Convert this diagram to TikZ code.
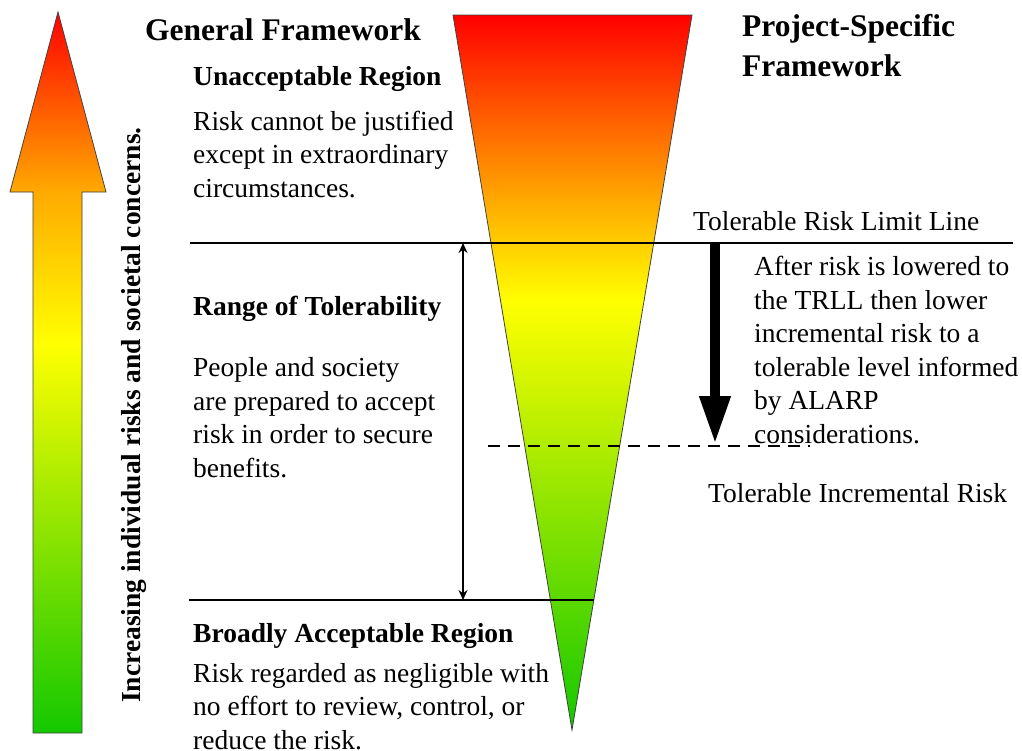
\documentclass[tikz,border=0pt]{standalone}
\usepackage{fontspec}
\setmainfont{Liberation Serif}
\usetikzlibrary{arrows.meta}
\definecolor{riskred}{RGB}{255,0,0}
\definecolor{riskorange}{RGB}{255,170,0}
\definecolor{riskyellow}{RGB}{255,255,0}
\definecolor{riskgreen}{RGB}{20,200,0}
\pgfdeclareverticalshading{triangleshade}{100bp}{color(0bp)=(riskgreen); color(25bp)=(riskgreen); color(55bp)=(riskyellow); color(62bp)=(riskorange); color(75bp)=(riskred); color(100bp)=(riskred)}
\pgfdeclareverticalshading{arrowshade}{100bp}{color(0bp)=(riskgreen); color(25bp)=(riskgreen); color(52bp)=(riskyellow); color(62.5bp)=(riskorange); color(75bp)=(riskred); color(100bp)=(riskred)}
\tikzset{
  body/.style={inner sep=0pt, anchor=base west, align=left, font=\fontsize{27.5}{33.5}\selectfont},
  heading/.style={body, font=\fontsize{27.5}{33.5}\selectfont\bfseries},
  title/.style={body, font=\fontsize{31.5}{40}\selectfont\bfseries},
  regionline/.style={line width=1.5pt},
}
\begin{document}
\begin{tikzpicture}[x=1pt,y=-1pt]
\useasboundingbox (0,0) rectangle (1022,750);

\shadedraw[shading=arrowshade, draw=black!75, line width=0.8pt]
  (33,733) -- (33,192) -- (10,192) -- (58,12) -- (106,192) -- (82,192) -- (82,733) -- cycle;
\node (concerns) [font=\fontsize{27.5}{33.5}\selectfont\bfseries, inner sep=0pt, anchor=base, rotate=90] at (140,415)
  {Increasing individual risks and societal concerns.};

\shadedraw[shading=triangleshade, draw=black!75, line width=0.8pt]
  (453,15) -- (692,15) -- (572,730) -- cycle;

\node (general) [title] at (145,40) {General Framework};
\node (project) [title] at (742,76) {Project-Specific\\Framework};

\node (unaccept) [heading] at (193,85) {Unacceptable Region};
\node (unacceptText) [body] at (193,197) {Risk cannot be justified\\except in extraordinary\\circumstances.};

\node (limit) [body] at (693,230) {Tolerable Risk Limit Line};

\node (range) [heading] at (193,315) {Range of Tolerability};
\node (rangeText) [body] at (193,477) {People and society\\are prepared to accept\\risk in order to secure\\benefits.};

\node (after) [body] at (754,443) {After risk is lowered to\\the TRLL then lower\\incremental risk to a\\tolerable level informed\\by ALARP\\considerations.};
\node (incremental) [body] at (708,502) {Tolerable Incremental Risk};

\node (broad) [heading] at (193,642) {Broadly Acceptable Region};
\node (broadText) [body] at (193,749) {Risk regarded as negligible with\\no effort to review, control, or\\reduce the risk.};

\coordinate (limitL) at (190,243);
\coordinate (limitR) at (1013,243);
\coordinate (broadL) at (189,600);
\coordinate (broadR) at (594,600);
\coordinate (rangeTop) at (463,243);
\coordinate (rangeBot) at (463,600);
\coordinate (lowerTop) at (715,243);
\coordinate (lowerBot) at (715,444);
\coordinate (incL) at (488,446);
\coordinate (incR) at (810,446);

\draw [regionline] (limitL) -- (limitR);
\draw [regionline] (broadL) -- (broadR);
\draw [line width=1.2pt, {Stealth[length=10pt,width=9pt]}-{Stealth[length=10pt,width=9pt]}] (rangeTop) -- (rangeBot);
\draw [line width=10pt, -{Triangle[length=48pt,width=29pt]}] (lowerTop) -- (lowerBot);
\draw [line width=2pt, dash pattern=on 12pt off 8pt] (incL) -- (incR);
\end{tikzpicture}
\end{document}
